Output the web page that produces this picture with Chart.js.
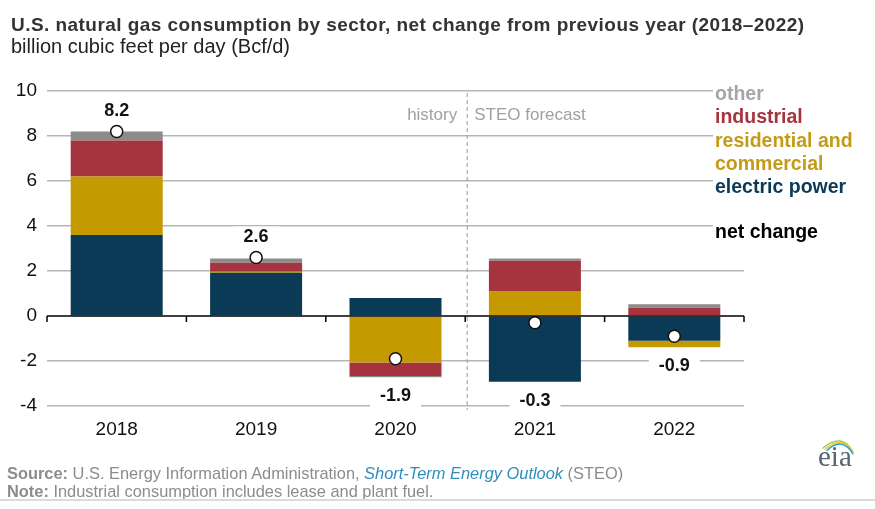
<!DOCTYPE html>
<html>
<head>
<meta charset="utf-8">
<script src="https://cdn.jsdelivr.net/npm/chart.js@4"></script>
<style>
  body { margin: 0; background: #fff; }
  #wrap { position: relative; width: 875px; height: 509px; font-family: "Liberation Sans", Arial, sans-serif; }
  #chart { position: absolute; left: 0; top: 0; }
  .txt { position: absolute; white-space: nowrap; }
  #title { left: 11px; top: 14.6px; font-size: 19px; line-height: 19px; letter-spacing: 0.45px; font-weight: bold; color: #333; }
  #subtitle { left: 11px; top: 35.5px; font-size: 20px; line-height: 20px; color: #222; }
  .foot { left: 7px; font-size: 16.4px; line-height: 16px; color: #8c8c8c; }
  .foot b { font-weight: bold; }
  .foot i { color: #2f8dbd; }
  #src { top: 465px; }
  #note { top: 483px; }
  #rule { position: absolute; left: 0; top: 499px; width: 875px; height: 2px; background: #dadada; }
</style>
</head>
<body>
<div id="wrap">
  <canvas id="chart" width="875" height="509"></canvas>
  <div id="title" class="txt">U.S. natural gas consumption by sector, net change from previous year (2018–2022)</div>
  <div id="subtitle" class="txt">billion cubic feet per day (Bcf/d)</div>
  <div id="src" class="txt foot"><b>Source:</b> U.S. Energy Information Administration, <i>Short-Term Energy Outlook</i> (STEO)</div>
  <div id="note" class="txt foot"><b>Note:</b> Industrial consumption includes lease and plant fuel.</div>
  <div id="rule"></div>
</div>
<script>
//categories and series (Bcf/d)
const years = ["2018", "2019", "2020", "2021", "2022"];
const electricPower = [3.6, 1.92, 0.8, -2.92, -1.1];
const residentialCommercial = [2.6, 0.05, -2.07, 1.11, -0.29];
const industrial = [1.6, 0.4, -0.6, 1.35, 0.37];
const other = [0.4, 0.19, -0.05, 0.1, 0.15];
const netChange = [8.2, 2.6, -1.9, -0.3, -0.9];
const netLabels = ["8.2", "2.6", "-1.9", "-0.3", "-0.9"];
const yTicks = [-4, -2, 0, 2, 4, 6, 8, 10];

//legend entries drawn at the right side
const legendItems = [
  { text: "other", color: "#a6a6a6", y: 100 },
  { text: "industrial", color: "#a6343f", y: 123 },
  { text: "residential and", color: "#c49b16", y: 146.5 },
  { text: "commercial", color: "#c49b16", y: 169.5 },
  { text: "electric power", color: "#0c3a55", y: 192.5 },
  { text: "net change", color: "#000", y: 238 },
];

const FONT = '"Liberation Sans", Arial, sans-serif';

//extras: zero line, history divider, net labels, legend, eia mark
const extras = {
  id: "extras",
  beforeDatasetsDraw(chart) {
    const ctx = chart.ctx;
    const area = chart.chartArea;
    const x = chart.scales.x;
    //white box behind the legend cuts the gridlines
    ctx.save();
    ctx.fillStyle = "#fff";
    ctx.fillRect(713, area.top - 6, area.right - 713 + 2, 160);

    //history / forecast divider
    const divX = (x.getPixelForValue(2) + x.getPixelForValue(3)) / 2 + 2;
    ctx.strokeStyle = "#9a9a9a";
    ctx.lineWidth = 1;
    ctx.setLineDash([4, 3]);
    ctx.beginPath();
    ctx.moveTo(divX, area.top + 2);
    ctx.lineTo(divX, area.bottom + 4);
    ctx.stroke();
    ctx.setLineDash([]);
    ctx.fillStyle = "#fff";
    ctx.fillRect(divX - 62, 104, 58, 22);
    ctx.fillRect(divX + 3, 104, 124, 22);
    ctx.font = "17px " + FONT;
    ctx.fillStyle = "#a0a0a0";
    ctx.textBaseline = "middle";
    ctx.textAlign = "right";
    ctx.fillText("history", divX - 10, 115);
    ctx.textAlign = "left";
    ctx.fillText("STEO forecast", divX + 7, 115);
    ctx.restore();
  },
  afterDatasetsDraw(chart) {
    const ctx = chart.ctx;
    const area = chart.chartArea;
    const y = chart.scales.y;
    const y0 = y.getPixelForValue(0);
    ctx.save();
    //zero line with ticks at category edges
    ctx.strokeStyle = "#000";
    ctx.lineWidth = 1.5;
    ctx.beginPath();
    ctx.moveTo(area.left, y0);
    ctx.lineTo(area.right, y0);
    const step = (area.right - area.left) / years.length;
    for (let k = 0; k <= years.length; k++) {
      const tx = area.left + k * step;
      ctx.moveTo(tx, y0);
      ctx.lineTo(tx, y0 + 6);
    }
    ctx.stroke();

    //net change labels
    const barMetas = chart.getSortedVisibleDatasetMetas().filter((m) => m.type === "bar");
    const pointMeta = chart.getDatasetMeta(4);
    ctx.font = "bold 18px " + FONT;
    ctx.textAlign = "center";
    ctx.textBaseline = "middle";
    netChange.forEach((v, i) => {
      const px = pointMeta.data[i].x;
      let ly;
      if (v > 0) {
        ly = pointMeta.data[i].y - 20;
      } else {
        let bottom = y0;
        barMetas.forEach((m) => {
          const el = m.data[i];
          bottom = Math.max(bottom, el.y, el.base);
        });
        ly = bottom + 19;
      }
      const w = ctx.measureText(netLabels[i]).width + 20;
      ctx.fillStyle = "#fff";
      ctx.fillRect(px - w / 2, ly - 11, w, 22);
      ctx.fillStyle = "#111";
      ctx.fillText(netLabels[i], px, ly);
    });
    ctx.restore();
  },
  afterDraw(chart) {
    const ctx = chart.ctx;
    ctx.save();
    //legend text
    ctx.font = "bold 19.5px " + FONT;
    ctx.textAlign = "left";
    ctx.textBaseline = "alphabetic";
    legendItems.forEach((it) => {
      ctx.fillStyle = it.color;
      ctx.fillText(it.text, 715, it.y);
    });

    //eia mark
    ctx.lineWidth = 1.4;
    ctx.lineCap = "round";
    [["#9cc94a", 0], ["#e6cf2a", 2], ["#2a9bd3", 4]].forEach(([c, d]) => {
      ctx.strokeStyle = c;
      ctx.beginPath();
      ctx.moveTo(823 + d, 448 + d * 0.6);
      ctx.quadraticCurveTo(842, 432 + d, 853, 452 + d * 0.5);
      ctx.stroke();
    });
    ctx.font = "29px \"Liberation Serif\", \"DejaVu Serif\", serif";
    ctx.fillStyle = "#566473";
    ctx.fillText("eia", 818, 466);
    ctx.restore();
  },
};

const ctx = document.getElementById("chart");
const myChart = new Chart(ctx, {
  type: "bar",
  plugins: [extras],
  data: {
    labels: years,
    datasets: [
      { label: "electric power", data: electricPower, backgroundColor: "#0b3a56", stack: "s", order: 1 },
      { label: "residential and commercial", data: residentialCommercial, backgroundColor: "#c49a00", stack: "s", order: 1 },
      { label: "industrial", data: industrial, backgroundColor: "#a6343f", stack: "s", order: 1 },
      { label: "other", data: other, backgroundColor: "#8c8c8c", stack: "s", order: 1 },
      {
        type: "line",
        label: "net change",
        data: netChange,
        stack: "net",
        order: 0,
        showLine: false,
        pointRadius: 6,
        pointBackgroundColor: "#fff",
        pointBorderColor: "#111",
        pointBorderWidth: 1.5,
      },
    ],
  },
  options: {
    responsive: false,
    animation: false,
    layout: { padding: { top: 91, right: 131, left: 0, bottom: 0 } },
    datasets: { bar: { barPercentage: 0.66, categoryPercentage: 1 } },
    plugins: {
      legend: { display: false },
      tooltip: { enabled: false },
      title: { display: false },
    },
    scales: {
      x: {
        stacked: true,
        grid: { display: false, drawTicks: false },
        border: { display: false },
        ticks: { font: { family: FONT, size: 19 }, color: "#111", padding: 12 },
        afterFit: (s) => { s.height = 103; },
      },
      y: {
        stacked: true,
        min: -4,
        max: 10,
        afterBuildTicks: (s) => { s.ticks = yTicks.map((v) => ({ value: v })); },
        grid: {
          drawTicks: false,
          lineWidth: 1.5,
          color: (c) => (c.tick && c.tick.value === 0 ? "rgba(0,0,0,0)" : "#b5b5b5"),
        },
        border: { display: false },
        ticks: { font: { family: FONT, size: 19 }, color: "#111", padding: 10 },
        afterFit: (s) => { s.width = 47; },
      },
    },
  },
});
</script>
</body>
</html>
